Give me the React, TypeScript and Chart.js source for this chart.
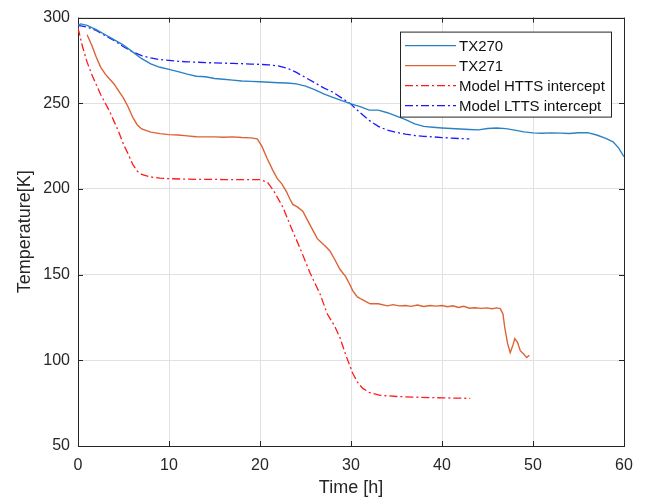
import React, { useEffect, useRef } from "react";
import { Chart, registerables } from "chart.js";

Chart.register(...registerables);

// ---- Data ----
const tx270Time = [0, 0.3, 1, 2, 3, 4, 5, 6, 7, 8, 9, 10, 11, 12, 13, 14, 15, 16, 17, 18, 19, 20, 21, 22, 23, 24, 25, 26, 27, 28, 29, 30, 31, 32, 33, 34, 35, 36, 37, 38, 39, 40, 41, 42, 43, 44, 45, 46, 47, 48, 49, 50, 51, 52, 53, 54, 55, 56, 57, 58, 58.8, 59.4, 60];
const tx270Temp = [295.5, 296.3, 295.5, 293, 290, 287, 284, 280, 276, 273, 271, 269.8, 268.5, 267, 265.8, 265.5, 264.5, 264, 263.5, 263, 262.8, 262.6, 262.3, 262, 261.8, 261.3, 260, 258, 255.5, 253.5, 251.5, 249.7, 248, 246, 246, 244.5, 242.5, 240.5, 238, 236.5, 236, 235.6, 235.3, 235, 234.7, 234.5, 235.3, 235.6, 235.2, 234.3, 233.3, 232.7, 232.5, 232.7, 232.6, 232.4, 232.8, 232.9, 231.5, 229.5, 227.5, 224, 218.8];

const tx271Time = [1.0, 1.5, 2.0, 2.5, 3.0, 3.5, 4.0, 4.5, 5.0, 5.5, 6.0, 6.5, 7.0, 8.0, 9.0, 10.0, 11.0, 12.0, 13.0, 14.0, 15.0, 16.0, 17.0, 18.0, 19.0, 19.7, 20.2, 20.8, 21.4, 21.9, 22.4, 22.9, 23.3, 23.6, 24.1, 24.7, 25.2, 25.8, 26.3, 26.8, 27.3, 27.7, 28.2, 28.8, 29.4, 29.8, 30.2, 30.7, 31.2, 32.1, 33.0, 34.0, 34.6, 35.3, 36.0, 36.6, 37.3, 38.0, 38.7, 39.3, 40.0, 40.6, 41.2, 41.8, 42.4, 43.0, 43.6, 44.3, 44.9, 45.5, 46.0, 46.4, 46.7, 46.9, 47.2, 47.5, 47.8, 48.0, 48.3, 48.6, 49.0, 49.3, 49.6];
const tx271Temp = [290, 284, 277, 271, 267, 264, 261, 257, 253, 248, 242, 237.5, 235, 233.2, 232.3, 231.7, 231.5, 231, 230.5, 230.4, 230.4, 230.2, 230.4, 230, 229.8, 229.2, 225, 217.6, 211, 206, 203, 198.5, 194, 191, 189.5, 187, 182, 176, 171, 168.5, 166, 163.7, 159, 153, 149, 145, 140.5, 137, 135.5, 133, 133, 131.8, 132.5, 131.8, 132, 131.5, 132.3, 131.4, 132, 131.6, 132, 131.3, 131.8, 130.8, 131.5, 130.4, 130.7, 130.3, 130.6, 130.1, 130.6, 130.2, 127, 119, 110, 104.5, 109, 112.7, 110.5, 105.6, 103.5, 101.6, 103];

const httsTime = [0, 0.5, 1.0, 1.5, 2.0, 2.5, 3.0, 3.5, 4.0, 4.5, 5.0, 5.5, 6.0, 6.5, 7.0, 8.0, 9.0, 10.0, 12, 14, 16, 18, 20, 20.8, 21.5, 22.5, 23.5, 24.4, 25.5, 26.6, 27.4, 28.2, 28.8, 29.5, 30.2, 30.8, 31.3, 32.0, 33.2, 35, 37.6, 40, 43.1];
const httsTemp = [294, 283, 274, 267, 261, 255, 250, 245, 239, 233, 226, 220.5, 214.5, 210.5, 208.5, 207, 206.3, 206, 205.7, 205.6, 205.5, 205.4, 205.4, 204, 199, 189.5, 176.5, 165.4, 151, 138.7, 127, 120, 113, 102, 92.3, 86.5, 83.6, 81.3, 79.6, 78.9, 78.4, 78.1, 77.8];

const lttsTime = [0, 1, 2, 3, 4, 5, 6, 7, 8, 9, 10, 11, 12, 13, 14, 15, 16, 17, 18, 19, 20, 21, 22, 23, 24, 25, 26, 27, 28, 29, 30, 31, 32, 33, 34, 35, 36, 37, 38, 39, 40, 41, 42, 43];
const lttsTemp = [295.5, 294.5, 292.5, 289.5, 286.5, 283, 280, 277.8, 276.5, 275.5, 275, 274.5, 274.2, 274, 273.7, 273.6, 273.4, 273.3, 273.1, 272.9, 272.7, 272.4, 271.8, 270.5, 268, 265, 262, 259, 256.5, 253, 249.5, 244.5, 240, 236.5, 234.3, 233, 232, 231.2, 230.7, 230.4, 230, 229.7, 229.4, 229.2];

const seriesLabels = ["TX270", "TX271", "Model HTTS intercept", "Model LTTS intercept"];
const xTicks = [0, 10, 20, 30, 40, 50, 60];
const yTicks = [50, 100, 150, 200, 250, 300];

const FONT = "'Liberation Sans', Arial, Helvetica, sans-serif";
const TEXT = "#262626";
const DASHDOT = [8, 3, 2, 3];

const toPoints = (xs: number[], ys: number[]) => xs.map((x, i) => ({ x, y: ys[i] }));

const boxPlugin = {
  id: "matlabBox",
  beforeDatasetsDraw(chart: any) {
    const { ctx, chartArea: a, scales } = chart;
    ctx.save();
    ctx.strokeStyle = TEXT;
    ctx.lineWidth = 1;
    const tl = 5;
    ctx.beginPath();
    for (const v of xTicks) {
      const px = Math.round(scales.x.getPixelForValue(v)) + 0.5;
      ctx.moveTo(px, a.bottom);
      ctx.lineTo(px, a.bottom - tl);
      ctx.moveTo(px, a.top);
      ctx.lineTo(px, a.top + tl);
    }
    for (const v of yTicks) {
      const py = Math.round(scales.y.getPixelForValue(v)) + 0.5;
      ctx.moveTo(a.left, py);
      ctx.lineTo(a.left + tl, py);
      ctx.moveTo(a.right, py);
      ctx.lineTo(a.right - tl, py);
    }
    ctx.stroke();
    ctx.strokeRect(Math.round(a.left) + 0.5, Math.round(a.top) + 0.5, Math.round(a.right - a.left), Math.round(a.bottom - a.top));
    ctx.restore();
  },
  afterDraw(chart: any) {
    const { ctx, chartArea: a } = chart;
    const bx = a.left + 322;
    const by = a.top + 14;
    const bw = 211;
    const bh = 85;
    ctx.save();
    ctx.fillStyle = "#ffffff";
    ctx.fillRect(bx, by, bw, bh);
    ctx.strokeStyle = TEXT;
    ctx.lineWidth = 1;
    ctx.strokeRect(bx + 0.5, by + 0.5, bw, bh);
    ctx.font = `15px ${FONT}`;
    ctx.textBaseline = "middle";
    chart.data.datasets.forEach((ds: any, i: number) => {
      const cy = by + 14 + i * 20;
      ctx.strokeStyle = ds.borderColor;
      ctx.lineWidth = ds.borderWidth;
      ctx.setLineDash(ds.borderDash || []);
      ctx.beginPath();
      ctx.moveTo(bx + 5, cy);
      ctx.lineTo(bx + 56, cy);
      ctx.stroke();
      ctx.setLineDash([]);
      ctx.fillStyle = "#111111";
      ctx.fillText(ds.label, bx + 59, cy + 1);
    });
    ctx.restore();
  },
};

export default function App() {
  const ref = useRef<HTMLCanvasElement | null>(null);
  useEffect(() => {
    if (!ref.current) return;
    const chart = new Chart(ref.current, {
      type: "line",
      data: {
        datasets: [
          { label: seriesLabels[0], data: toPoints(tx270Time, tx270Temp), borderColor: "#2a82c6", borderWidth: 1.4, pointRadius: 0, tension: 0 },
          { label: seriesLabels[1], data: toPoints(tx271Time, tx271Temp), borderColor: "#dc6335", borderWidth: 1.4, pointRadius: 0, tension: 0 },
          { label: seriesLabels[2], data: toPoints(httsTime, httsTemp), borderColor: "#ff1a1a", borderWidth: 1.3, borderDash: DASHDOT, pointRadius: 0, tension: 0 },
          { label: seriesLabels[3], data: toPoints(lttsTime, lttsTemp), borderColor: "#1a1aff", borderWidth: 1.3, borderDash: DASHDOT, pointRadius: 0, tension: 0 },
        ],
      },
      options: {
        responsive: false,
        animation: false,
        layout: { padding: { top: 15, right: 22, left: 0, bottom: 0 } },
        plugins: { legend: { display: false }, tooltip: { enabled: false } },
        scales: {
          x: {
            type: "linear",
            min: 0,
            max: 60,
            afterBuildTicks: (s: any) => { s.ticks = xTicks.map((v) => ({ value: v })); },
            afterFit: (s: any) => { s.height = 53; },
            grid: { color: "#e1e1e1", drawTicks: false, lineWidth: 1 },
            border: { display: false },
            ticks: { color: TEXT, font: { family: FONT, size: 16 }, padding: 10, maxRotation: 0 },
            title: { display: true, text: "Time [h]", color: TEXT, font: { family: FONT, size: 18 }, padding: { top: 0, bottom: 0 } },
          },
          y: {
            type: "linear",
            min: 50,
            max: 300,
            afterBuildTicks: (s: any) => { s.ticks = yTicks.map((v) => ({ value: v })); },
            afterFit: (s: any) => { s.width = 78; },
            grid: { color: "#e1e1e1", drawTicks: false, lineWidth: 1 },
            border: { display: false },
            ticks: { color: TEXT, font: { family: FONT, size: 16 }, padding: 8 },
            title: { display: true, text: "Temperature[K]", color: TEXT, font: { family: FONT, size: 18 }, padding: { top: 14, bottom: 0 } },
          },
        },
      },
      plugins: [boxPlugin],
    });
    return () => chart.destroy();
  }, []);
  return (
    <div style={{ position: "absolute", left: 0, top: 0, width: 646, height: 499, background: "#fff" }}>
      <canvas ref={ref} width={646} height={499} />
    </div>
  );
}
